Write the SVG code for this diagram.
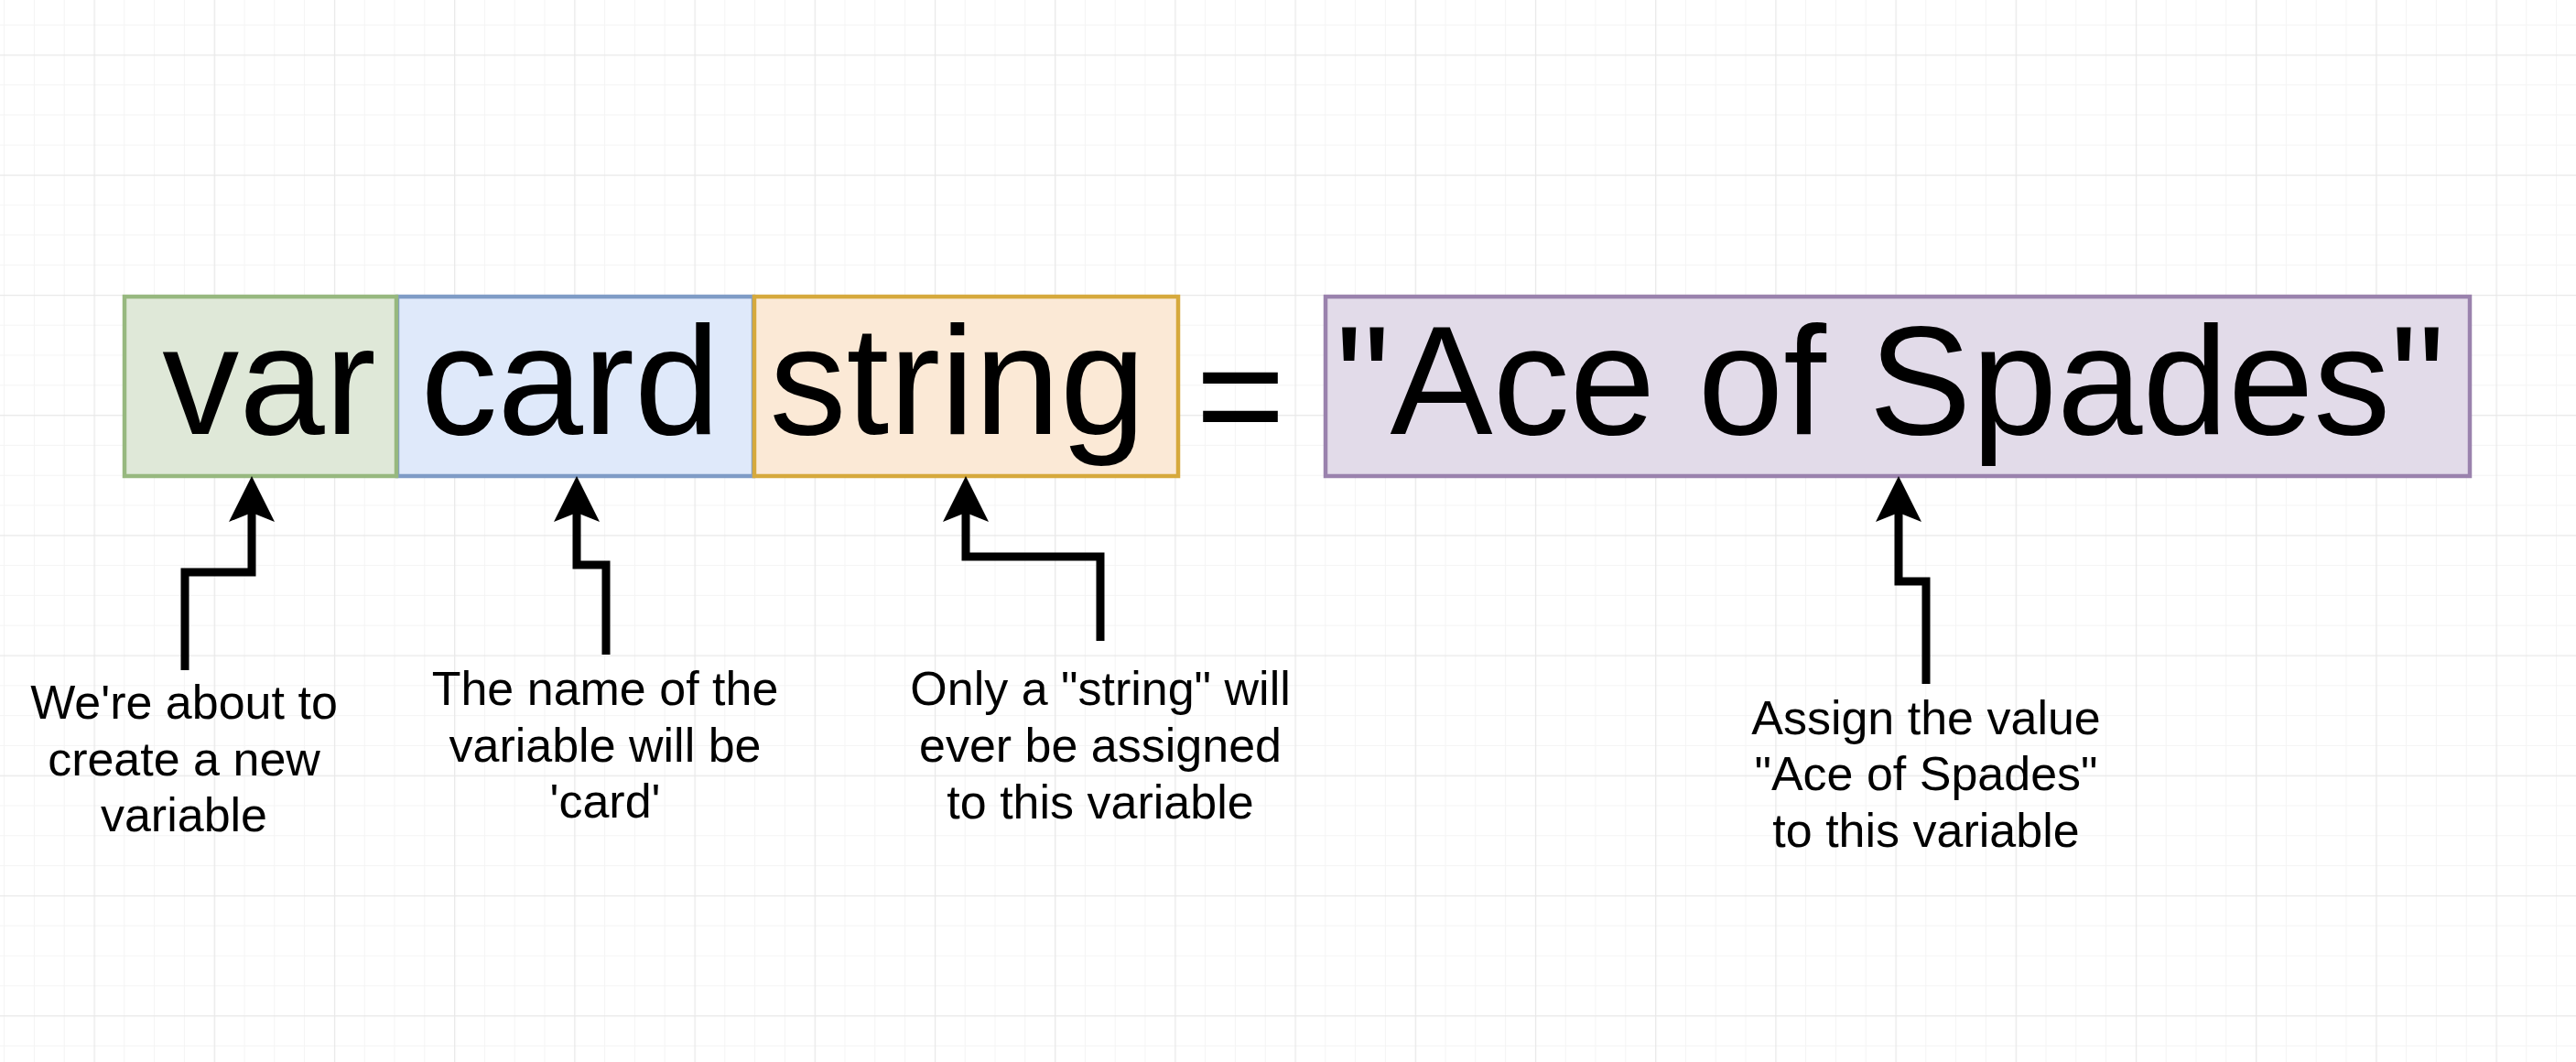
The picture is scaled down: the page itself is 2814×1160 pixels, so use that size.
<svg xmlns="http://www.w3.org/2000/svg" width="2814" height="1160" viewBox="0 0 2814 1160">
  <style>
    .code { font-family: "Liberation Sans", Arial, Helvetica, sans-serif; font-size: 168px; fill: #000; text-anchor: middle; }
    .note { font-family: "Liberation Sans", Arial, Helvetica, sans-serif; font-size: 52px; fill: #000; text-anchor: middle; }
    .box { stroke-width: 4.5; }
    .conn { fill: none; stroke: #000; stroke-width: 9; stroke-linejoin: miter; marker-end: url(#head); }
  </style>
  <defs>
    <!-- light drawing grid: minor every 32.8, major every 131.2 -->
    <pattern id="grid" patternUnits="userSpaceOnUse" x="102.5" y="59.5" width="131.2" height="131.2">
      <g stroke="#f4f4f4" stroke-width="1">
        <line x1="33.3" y1="0" x2="33.3" y2="131.2"/>
        <line x1="66.1" y1="0" x2="66.1" y2="131.2"/>
        <line x1="98.9" y1="0" x2="98.9" y2="131.2"/>
        <line x1="0" y1="33.3" x2="131.2" y2="33.3"/>
        <line x1="0" y1="66.1" x2="131.2" y2="66.1"/>
        <line x1="0" y1="98.9" x2="131.2" y2="98.9"/>
      </g>
      <g stroke="#e8e8e8" stroke-width="1.5">
        <line x1="0.5" y1="0" x2="0.5" y2="131.2"/>
        <line x1="0" y1="0.5" x2="131.2" y2="0.5"/>
      </g>
    </pattern>
    <!-- classic notched arrowhead, anchored at its notch -->
    <marker id="head" markerUnits="userSpaceOnUse" viewBox="0 -26 52 52" refX="10" refY="0" markerWidth="52" markerHeight="52" orient="auto" overflow="visible">
      <path d="M50,0 L0,-25 L10,0 L0,25 Z" fill="#000"/>
    </marker>
  </defs>

  <rect x="0" y="0" width="2814" height="1160" fill="#ffffff"/>
  <rect x="0" y="0" width="2814" height="1160" fill="url(#grid)"/>

  <!-- declaration parts -->
  <g id="node-card">
    <rect class="box" x="434" y="324" width="389" height="196" fill="#dfe9fa" stroke="#7f9cc6"/>
    <text class="code" x="623" y="474">card</text>
  </g>
  <g id="node-var">
    <rect class="box" x="136" y="324" width="297" height="196" fill="#dfe8d8" stroke="#97b87f"/>
    <text class="code" x="294" y="474">var</text>
  </g>
  <g id="node-string">
    <rect class="box" x="824" y="324" width="463" height="196" fill="#fbe9d6" stroke="#d6a93c"/>
    <text class="code" x="1046" y="474">string</text>
  </g>
  <g id="node-equals">
    <text class="code" x="1355" y="489">=</text>
  </g>
  <g id="node-value">
    <rect class="box" x="1448" y="324" width="1250" height="196" fill="#e2dbe9" stroke="#9a82ad"/>
    <text class="code" x="2065" y="474">"Ace of Spades"</text>
  </g>

  <!-- explanations -->
  <g id="note-var">
    <text class="note" x="201" y="785">We're about to</text>
    <text class="note" x="201" y="847">create a new</text>
    <text class="note" x="201" y="908">variable</text>
  </g>
  <g id="note-card">
    <text class="note" x="661" y="770">The name of the</text>
    <text class="note" x="661" y="832">variable will be</text>
    <text class="note" x="661" y="893">'card'</text>
  </g>
  <g id="note-string">
    <text class="note" x="1202" y="770">Only a "string" will</text>
    <text class="note" x="1202" y="832">ever be assigned</text>
    <text class="note" x="1202" y="894">to this variable</text>
  </g>
  <g id="note-value">
    <text class="note" x="2104" y="802">Assign the value</text>
    <text class="note" x="2104" y="863">"Ace of Spades"</text>
    <text class="note" x="2104" y="925">to this variable</text>
  </g>

  <!-- connectors from each note up to its box -->
  <g id="connectors">
    <path class="conn" d="M202,732 V625 H275 V560"/>
    <path class="conn" d="M662,715 V617 H630 V560"/>
    <path class="conn" d="M1202,700 V608 H1055 V560"/>
    <path class="conn" d="M2104,747 V635 H2074 V560"/>
  </g>
</svg>
